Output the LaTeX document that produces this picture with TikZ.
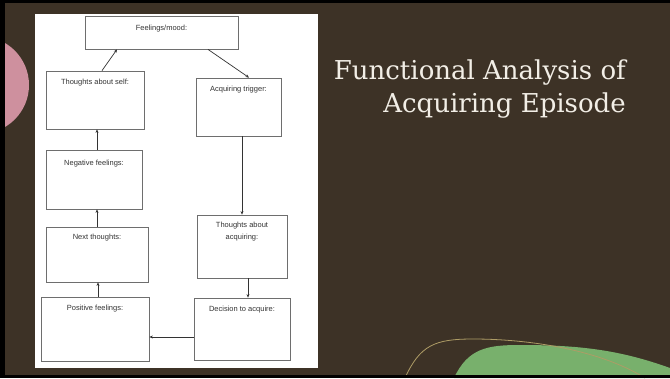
\documentclass[tikz,border=0pt]{standalone}
\usepackage{fontspec}
\setmainfont{Liberation Sans}
\newfontfamily\titlefont{DejaVu Serif}
\usetikzlibrary{arrows.meta}
\definecolor{bgbrown}{HTML}{3D3226}
\definecolor{pinkc}{HTML}{CE909E}
\definecolor{greenc}{HTML}{78B06C}
\definecolor{tanc}{HTML}{AE9C66}
\definecolor{titlec}{HTML}{F2EEE6}
\definecolor{boxline}{HTML}{6E6E6E}
\definecolor{txtc}{HTML}{333333}
\tikzset{
  box/.style={draw=boxline, line width=0.8pt, fill=white, rectangle, inner sep=0pt},
  lbl/.style={anchor=north, inner sep=0pt, font=\fontsize{7.5}{12}\selectfont, text=txtc, align=center},
  arr/.style={draw=black!80, line width=0.7pt, -{Stealth[length=3.5pt,width=3pt]}},
  ttl/.style={anchor=base east, inner sep=0pt, text=titlec, font=\titlefont\fontsize{26}{30}\selectfont}
}
\begin{document}
\begin{tikzpicture}[x=1pt,y=-1pt]
\useasboundingbox (0,0) rectangle (670,378);
% background
\fill[bgbrown] (0,0) rectangle (670,378);
\fill[pinkc] (-19.75,85) circle (48.75);
\fill[greenc] (454,378) .. controls (468,348) and (488,345) .. (520,345) .. controls (580,345) and (620,350) .. (670,368) -- (670,378) -- cycle;
\draw[tanc, line width=0.8pt] (405,378) .. controls (420,345) and (435,339) .. (473,339) .. controls (530,339) and (600,350) .. (645,378);
% black frame
\fill[black] (0,0) rectangle (670,3);
\fill[black] (0,0) rectangle (5,378);
\fill[black] (0,375) rectangle (670,378);
% white panel
\fill[white] (35,14) rectangle (318,368);
% boxes
\node[box, minimum width=153pt, minimum height=33pt] (fm) at (161.5,32.5) {};
\node[lbl, yshift=-9.5pt] (fml) at (fm.north) {Feelings/mood:};
\node[box, minimum width=98pt, minimum height=58pt] (ts) at (95,100) {};
\node[lbl, yshift=-8.5pt] (tsl) at (ts.north) {Thoughts about self:};
\node[box, minimum width=85pt, minimum height=58pt] (at) at (238.5,107) {};
\node[lbl, yshift=-8.5pt] (atl) at (at.north) {Acquiring trigger:};
\node[box, minimum width=96pt, minimum height=59pt] (nf) at (94,179.5) {};
\node[lbl, yshift=-10.5pt] (nfl) at (nf.north) {Negative feelings:};
\node[box, minimum width=102pt, minimum height=55pt] (nt) at (97,254.5) {};
\node[lbl, yshift=-7.5pt] (ntl) at (nt.north) {Next thoughts:};
\node[box, minimum width=90pt, minimum height=63pt] (ta) at (242,246.5) {};
\node[lbl, yshift=-7.5pt] (tal) at (ta.north) {Thoughts about\\acquiring:};
\node[box, minimum width=108pt, minimum height=64pt] (pf) at (95,329) {};
\node[lbl, yshift=-8.5pt] (pfl) at (pf.north) {Positive feelings:};
\node[box, minimum width=96pt, minimum height=62pt] (da) at (242,329) {};
\node[lbl, yshift=-8.5pt] (dal) at (da.north) {Decision to acquire:};
% connectors
\draw[arr] ([xshift=7pt]ts.north) -- ([xshift=-44.5pt]fm.south);
\draw[arr] ([xshift=46.5pt]fm.south) -- ([xshift=10.5pt]at.north);
\draw[arr] ([xshift=3pt]nf.north) -- ([xshift=2pt]ts.south);
\draw[arr] ([xshift=0pt]nt.north) -- ([xshift=3pt]nf.south);
\draw[arr] ([xshift=3pt]pf.north) -- ([xshift=1pt]nt.south);
\draw[arr] ([xshift=3.5pt]at.south) -- ([xshift=0pt]ta.north);
\draw[arr] ([xshift=6pt]ta.south) -- ([xshift=6pt]da.north);
\draw[arr] ([yshift=-8pt]da.west) -- ([yshift=-8pt]pf.east);
% title
\node[ttl] (t1) at (626,79) {Functional Analysis of};
\node[ttl] (t2) at (626,112) {Acquiring Episode};
\end{tikzpicture}
\end{document}
